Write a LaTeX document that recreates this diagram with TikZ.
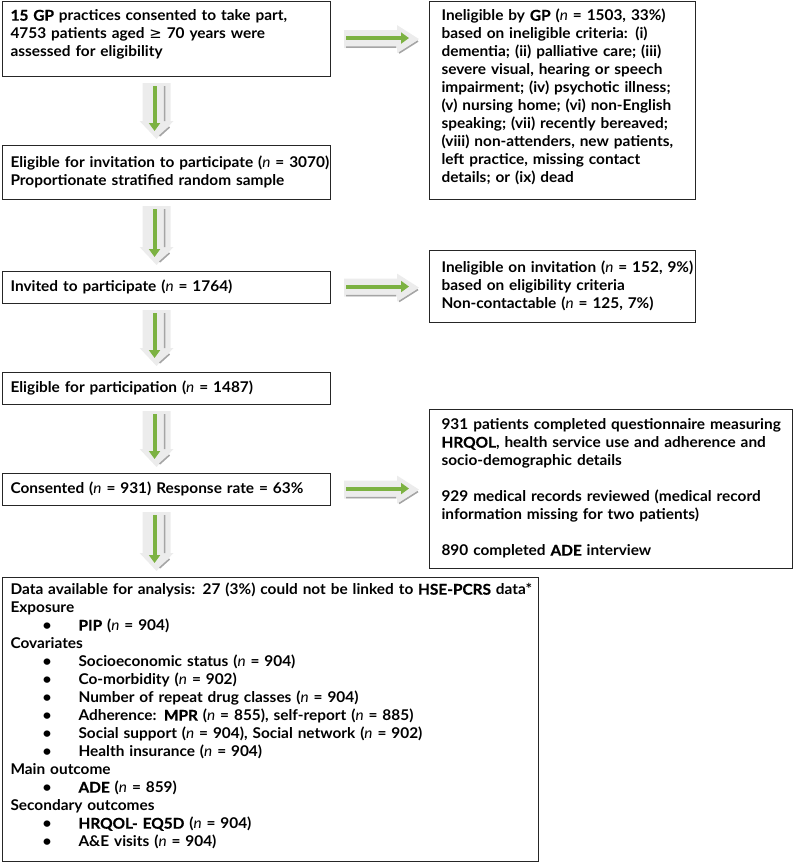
\documentclass[tikz,border=0pt]{standalone}
\usepackage{fontspec}
\setmainfont{Lato}[UprightFont=* Bold, ItalicFont=* Italic, BoldFont=* Bold,
  BoldFeatures={FakeBold=0.8}, FakeStretch=1.04]
\newfontfamily\symfont{DejaVu Sans}
\usetikzlibrary{arrows.meta,calc}

\definecolor{flowgreen}{RGB}{124,178,66}
\definecolor{flowgray}{RGB}{165,165,165}
\definecolor{flowbg}{RGB}{236,236,236}

\tikzset{
  box/.style={draw=black!85, line width=1.1pt, anchor=north west, align=left,
    inner xsep=8pt, inner ysep=0pt, font=\fontsize{14.8}{18}\selectfont},
  greenline/.style={flowgreen, line width=4pt, -{Triangle[length=8pt,width=11pt]}},
  grayline/.style={flowgray, line width=1.6pt},
}

\newcommand{\nn}{\textit{n}}
\newcommand{\gte}{{\symfont\mdseries ≥}}
\newcommand{\itm}[1]{\hspace*{32pt}\makebox[36pt][l]{\textbullet}#1}
\newcommand{\lines}[1]{\begin{tabular}{@{}l@{}}#1\end{tabular}}

\newcommand{\flowdown}[2]{%
  \path let \p1=(#1.south), \p2=(#2.north) in
    coordinate (t) at (\x1-10pt,\y1-6pt)
    coordinate (h) at (\x1-10pt,\y2+6pt);
  \fill[flowbg] let \p1=(t), \p2=(h) in
    (\x1-14pt,\y1) -- (\x1+14pt,\y1) -- (\x1+14pt,\y2+18pt) -- (\x1+17pt,\y2+18pt)
    -- (\x1,\y2) -- (\x1-17pt,\y2+18pt) -- (\x1-14pt,\y2+18pt) -- cycle;
  \draw[grayline] let \p1=(t), \p2=(h) in
    (\x1+8pt,\y1-3pt) -- (\x1+8pt,\y2+18pt)
    (\x1+13pt,\y2+12pt) -- (\x1+3pt,\y2+3pt);
  \draw[greenline] let \p1=(t), \p2=(h) in
    (\x1-2pt,\y1-3pt) -- (\x1-2pt,\y2+8pt);
}

\newcommand{\flowright}[2]{%
  \path let \p1=(#1.east), \p2=(#2.west) in
    coordinate (t) at (\x1+13pt,\y1)
    coordinate (h) at (\x2-10pt,\y1);
  \fill[flowbg] let \p1=(t), \p2=(h) in
    (\x1,\y1+9pt) -- (\x2-22pt,\y1+9pt) -- (\x2-22pt,\y1+14pt) -- (\x2,\y1)
    -- (\x2-22pt,\y1-14pt) -- (\x2-22pt,\y1-9pt) -- (\x1,\y1-9pt) -- cycle;
  \draw[grayline] let \p1=(t), \p2=(h) in
    (\x1+2pt,\y1-8pt) -- (\x2-23pt,\y1-8pt)
    (\x2-20pt,\y1-14pt) -- (\x2-1pt,\y1-2pt);
  \draw[greenline] let \p1=(t), \p2=(h) in
    (\x1+2pt,\y1+1pt) -- (\x2-10pt,\y1+1pt);
}

\begin{document}
\begin{tikzpicture}[x=1pt,y=-1pt]
  \useasboundingbox (0,0) rectangle (794,863);

  \node[box, minimum width=328, text width=312, minimum height=75] (start) at (2,1)
    {\lines{\textbf{15 GP} practices consented to take part,\\
     4753 patients aged \gte\ 70 years were\\
     assessed for eligibility\\[8pt]}};
  \node[box, minimum width=328, text width=312, minimum height=54] (elig) at (2,145)
    {\lines{Eligible for invitation to participate (\nn\ = 3070)\\
     Proportionate stratified random sample}};
  \node[box, minimum width=328, text width=312, minimum height=32] (invit) at (2,271)
    {\lines{Invited to participate (\nn\ = 1764)}};
  \node[box, minimum width=328, text width=312, minimum height=32] (part) at (2,372)
    {\lines{Eligible for participation (\nn\ = 1487)}};
  \node[box, minimum width=328, text width=312, minimum height=32] (cons) at (2,473)
    {\lines{Consented (\nn\ = 931) Response rate = 63\%}};
  \node[box, minimum width=536, text width=520, minimum height=284] (data) at (2,577)
    {\lines{Data available for analysis: 27 (3\%) could not be linked to \textbf{HSE-PCRS} data*\\
     Exposure\\
     \itm{\textbf{PIP} (\nn\ = 904)}\\
     Covariates\\
     \itm{Socioeconomic status (\nn\ = 904)}\\
     \itm{Co-morbidity (\nn\ = 902)}\\
     \itm{Number of repeat drug classes (\nn\ = 904)}\\
     \itm{Adherence: \textbf{MPR} (\nn\ = 855), self-report (\nn\ = 885)}\\
     \itm{Social support (\nn\ = 904), Social network (\nn\ = 902)}\\
     \itm{Health insurance (\nn\ = 904)}\\
     Main outcome\\
     \itm{\textbf{ADE} (\nn\ = 859)}\\
     Secondary outcomes\\
     \itm{\textbf{HRQOL- EQ5D} (\nn\ = 904)}\\
     \itm{A\&E visits (\nn\ = 904)}\\[5pt]}};

  \node[box, minimum width=266, text width=242, minimum height=198, inner xsep=12pt] (exgp) at (429,1)
    {\lines{Ineligible by \textbf{GP} (\nn\ = 1503, 33\%)\\
     based on ineligible criteria: (i)\\
     dementia; (ii) palliative care; (iii)\\
     severe visual, hearing or speech\\
     impairment; (iv) psychotic illness;\\
     (v) nursing home; (vi) non-English\\
     speaking; (vii) recently bereaved;\\
     (viii) non-attenders, new patients,\\
     left practice, missing contact\\
     details; or (ix) dead\\[5pt]}};
  \node[box, minimum width=266, text width=242, minimum height=72, inner xsep=12pt] (exinv) at (429,250)
    {\lines{Ineligible on invitation (\nn\ = 152, 9\%)\\
     based on eligibility criteria\\
     Non-contactable (\nn\ = 125, 7\%)}};
  \node[box, minimum width=363, text width=339, minimum height=159, inner xsep=12pt] (done) at (429,409)
    {\lines{931 patients completed questionnaire measuring\\
     \textbf{HRQOL}, health service use and adherence and\\
     socio-demographic details\\[18pt]
     929 medical records reviewed (medical record\\
     information missing for two patients)\\[18pt]
     890 completed \textbf{ADE} interview}};

  \flowdown{start}{elig}
  \flowdown{elig}{invit}
  \flowdown{invit}{part}
  \flowdown{part}{cons}
  \flowdown{cons}{data}

  \flowright{start}{exgp}
  \flowright{invit}{exinv}
  \flowright{cons}{done}
\end{tikzpicture}
\end{document}
